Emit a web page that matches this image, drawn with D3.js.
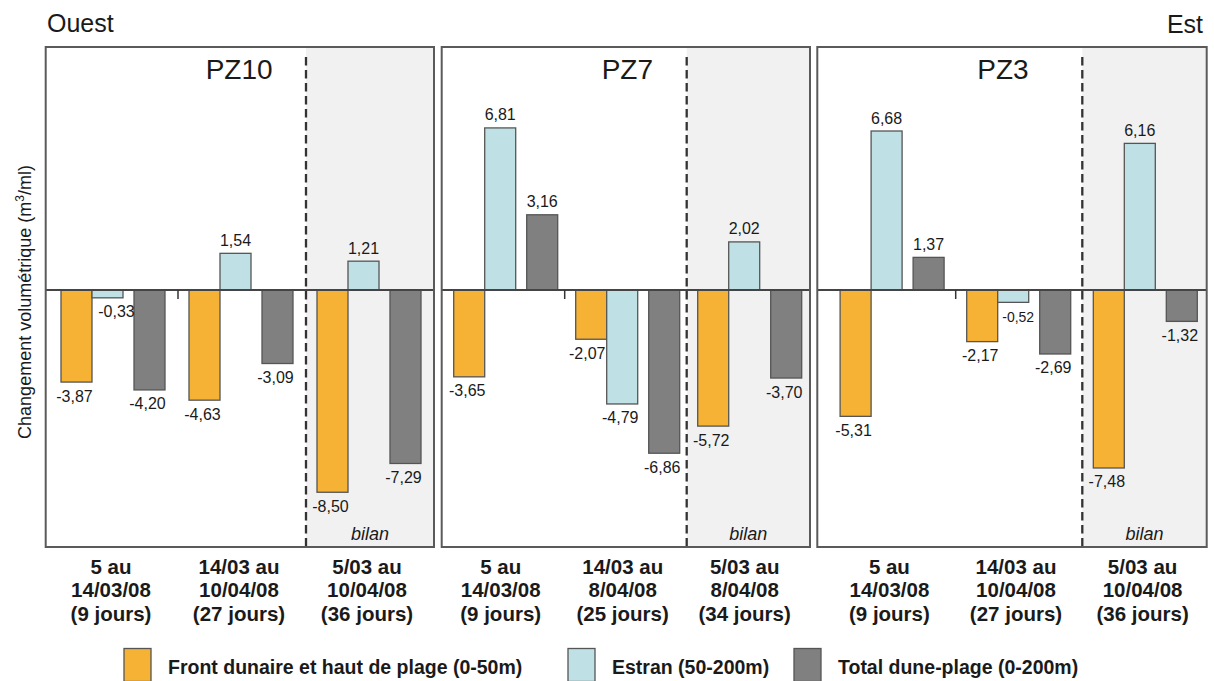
<!DOCTYPE html>
<html>
<head>
<meta charset="utf-8">
<script src="https://cdn.jsdelivr.net/npm/d3@7"></script>
<style>
  html, body { margin: 0; padding: 0; background: #ffffff; }
  text { font-family: "Liberation Sans", Arial, Helvetica, sans-serif; fill: #1a1a1a; }
</style>
</head>
<body>
<script>
// ---------------- DATA ----------------
const panels = ["PZ10", "PZ7", "PZ3"];
const seriesKeys = ["front", "estran", "total"];
const seriesNames = ["Front dunaire et haut de plage (0-50m)", "Estran (50-200m)", "Total dune-plage (0-200m)"];
const periodLabels = [
  [["5 au", "14/03/08", "(9 jours)"], ["14/03 au", "10/04/08", "(27 jours)"], ["5/03 au", "10/04/08", "(36 jours)"]],
  [["5 au", "14/03/08", "(9 jours)"], ["14/03 au", "8/04/08", "(25 jours)"], ["5/03 au", "8/04/08", "(34 jours)"]],
  [["5 au", "14/03/08", "(9 jours)"], ["14/03 au", "10/04/08", "(27 jours)"], ["5/03 au", "10/04/08", "(36 jours)"]]
];
const frontValues  = [[-3.87, -4.63, -8.50], [-3.65, -2.07, -5.72], [-5.31, -2.17, -7.48]];
const estranValues = [[-0.33,  1.54,  1.21], [ 6.81, -4.79,  2.02], [ 6.68, -0.52,  6.16]];
const totalValues  = [[-4.20, -3.09, -7.29], [ 3.16, -6.86, -3.70], [ 1.37, -2.69, -1.32]];
const bilanLabel = "bilan";
const yTitle = "Changement volumétrique (m";
const leftLabel = "Ouest", rightLabel = "Est";

// ---------------- LAYOUT / STYLE ----------------
const W = 1214, H = 681;
const colors = { front: "#f6b234", estran: "#bfe0e4", total: "#808080" };
const panelLayout = [
  { left: 45.7,  right: 434,    bandStart: 50,    bandEnd: 434 },
  { left: 441.7, right: 810,    bandStart: 442.7, bandEnd: 808.7 },
  { left: 817.3, right: 1206.7, bandStart: 829.1, bandEnd: 1208.9 }
];
const plotTop = 47, plotBottom = 547;
const barW = 31;
const labelNudge = { "0-0-estran": 9, "2-1-estran": 5, "1-1-front": -4 };
const labelSmall = { "2-1-estran": 14 };

const svg = d3.select("body").append("svg")
  .attr("width", W).attr("height", H)
  .attr("viewBox", `0 0 ${W} ${H}`);

const y = d3.scaleLinear().domain([-10.8, 10.21]).range([plotBottom, plotTop]);
const x1 = d3.scaleOrdinal().domain(seriesKeys).range([11, 42, 84]);
const valuesBySeries = { front: frontValues, estran: estranValues, total: totalValues };
const fmt = v => d3.format(".2f")(v).replace(".", ",").replace("\u2212", "-");

panels.forEach((pz, pi) => {
  const L = panelLayout[pi];
  const x0 = d3.scaleBand().domain([0, 1, 2]).range([L.bandStart, L.bandEnd]).padding(0);
  const g = svg.append("g");
  const dashX = x0(2);

  // shaded "bilan" region
  g.append("rect")
    .attr("x", dashX).attr("y", plotTop)
    .attr("width", L.right - dashX).attr("height", plotBottom - plotTop)
    .attr("fill", "#f1f1f1");

  // bars
  const rows = [];
  [0, 1, 2].forEach(k => seriesKeys.forEach(s => rows.push({ k, s, v: valuesBySeries[s][pi][k] })));

  g.selectAll("rect.bar").data(rows).enter().append("rect")
    .attr("class", "bar")
    .attr("x", d => x0(d.k) + x1(d.s))
    .attr("y", d => Math.min(y(d.v), y(0)))
    .attr("width", barW)
    .attr("height", d => Math.abs(y(d.v) - y(0)))
    .attr("fill", d => colors[d.s])
    .attr("stroke", "#555")
    .attr("stroke-width", 1.3);

  // value labels
  g.selectAll("text.val").data(rows).enter().append("text")
    .attr("class", "val")
    .attr("x", d => {
      const key = `${pi}-${d.k}-${d.s}`;
      const base = x0(d.k) + x1(d.s) + barW / 2;
      if (labelNudge[key] !== undefined) return base + labelNudge[key];
      return d.v < 0 ? base - 2 : base;
    })
    .attr("y", d => d.v >= 0 ? y(d.v) - 7.5 : y(d.v) + 19.5)
    .attr("text-anchor", "middle")
    .style("font-size", d => (labelSmall[`${pi}-${d.k}-${d.s}`] || 16) + "px")
    .text(d => fmt(d.v));

  // zero line
  g.append("line")
    .attr("x1", L.left).attr("x2", L.right)
    .attr("y1", y(0)).attr("y2", y(0))
    .attr("stroke", "#444").attr("stroke-width", 2);

  // tick between first and second period
  g.append("line")
    .attr("x1", x0(1)).attr("x2", x0(1))
    .attr("y1", y(0)).attr("y2", y(0) + 9)
    .attr("stroke", "#333").attr("stroke-width", 1.5);

  // dashed separator
  g.append("line")
    .attr("x1", dashX).attr("x2", dashX)
    .attr("y1", 57).attr("y2", plotBottom)
    .attr("stroke", "#333").attr("stroke-width", 2.3)
    .attr("stroke-dasharray", "8.5,4.5");

  // border
  g.append("rect")
    .attr("x", L.left).attr("y", plotTop)
    .attr("width", L.right - L.left).attr("height", plotBottom - plotTop)
    .attr("fill", "none").attr("stroke", "#5a5a5a").attr("stroke-width", 2);

  // panel title
  g.append("text")
    .attr("x", L.left + 160).attr("y", 78.5)
    .style("font-size", "28px")
    .text(pz);

  // bilan
  g.append("text")
    .attr("x", (dashX + L.right) / 2).attr("y", 539.5)
    .attr("text-anchor", "middle")
    .style("font-size", "18px").style("font-style", "italic")
    .text(bilanLabel);

  // period labels
  periodLabels[pi].forEach((lines, k) => {
    const t = g.append("text")
      .attr("text-anchor", "middle")
      .style("font-size", "20.5px").style("font-weight", "bold");
    lines.forEach((ln, li) => {
      t.append("tspan")
        .attr("x", x0(k) + x0.bandwidth() / 2 - 3)
        .attr("y", 573.5 + li * 23.5)
        .text(ln);
    });
  });
});

// Ouest / Est
svg.append("text").attr("x", 47).attr("y", 32).style("font-size", "25px").text(leftLabel);
svg.append("text").attr("x", 1203).attr("y", 33).attr("text-anchor", "end").style("font-size", "25px").text(rightLabel);

// Y axis title
const yt = svg.append("text")
  .attr("transform", "translate(31,302) rotate(-90)")
  .attr("text-anchor", "middle")
  .style("font-size", "18px");
yt.append("tspan").text(yTitle);
yt.append("tspan").attr("dy", -7).style("font-size", "12px").text("3");
yt.append("tspan").attr("dy", 7).text("/ml)");

// Legend
const legendX = [124, 568, 794];
const leg = svg.append("g");
seriesKeys.forEach((s, i) => {
  leg.append("rect")
    .attr("x", legendX[i]).attr("y", 648.5)
    .attr("width", 27).attr("height", 33)
    .attr("fill", colors[s]).attr("stroke", "#555").attr("stroke-width", 1.3);
  leg.append("text")
    .attr("x", legendX[i] + 44).attr("y", 673.5)
    .style("font-size", "19.5px").style("font-weight", "bold")
    .text(seriesNames[i]);
});
</script>
</body>
</html>
